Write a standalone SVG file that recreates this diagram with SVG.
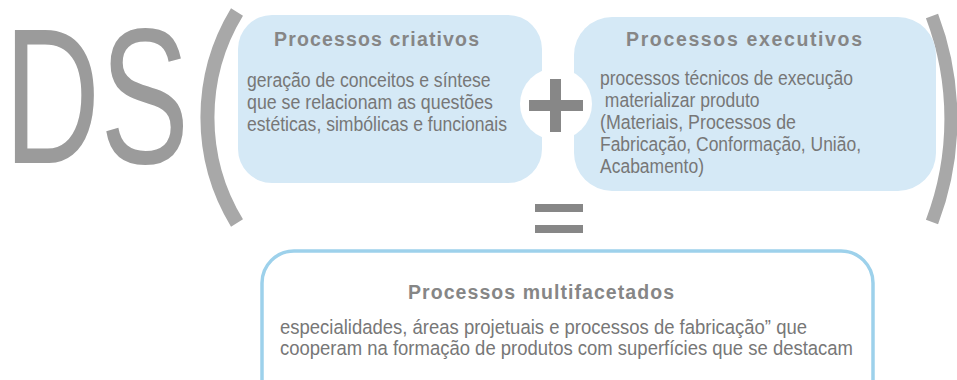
<svg xmlns="http://www.w3.org/2000/svg" width="957" height="380" viewBox="0 0 957 380">
<style>
.box{fill:#d5e9f6}
.title{font-family:"Liberation Sans",Arial,sans-serif;font-weight:bold;font-size:19.5px;fill:#868686}
.body{font-family:"Liberation Sans",Arial,sans-serif;font-size:19.5px;fill:#777777}
.big{font-size:20.5px}
.paren{fill:none;stroke:#a8a8a8;stroke-linecap:butt}
.op{fill:#878787}
</style>
<rect width="957" height="380" fill="#ffffff"/>
<g id="ds">
<text x="4" y="163" font-family="'Liberation Sans',Arial,sans-serif" font-size="193" fill="#9b9b9b" textLength="185" lengthAdjust="spacingAndGlyphs">DS</text>
</g>
<g id="paren-left"><path class="paren" stroke-width="14" d="M237,12 A203,203 0 0 0 237,223"/></g>
<g id="paren-right"><path class="paren" stroke-width="13" d="M932,16 A290,290 0 0 1 932,222"/></g>
<g id="criativos">
<rect class="box" x="238" y="15" width="304" height="168" rx="34"/>
<text class="title" x="274" y="46" textLength="205" lengthAdjust="spacing">Processos criativos</text>
<text class="body" x="247" y="87" textLength="243.6" lengthAdjust="spacingAndGlyphs">geração de conceitos e síntese</text>
<text class="body" x="247" y="109" textLength="246" lengthAdjust="spacingAndGlyphs">que se relacionam as questões</text>
<text class="body" x="247" y="131" textLength="260" lengthAdjust="spacingAndGlyphs">estéticas, simbólicas e funcionais</text>
</g>
<g id="executivos">
<rect class="box" x="574" y="17" width="362" height="174" rx="38"/>
<text class="title" x="626" y="46" textLength="236" lengthAdjust="spacing">Processos executivos</text>
<text class="body" x="600" y="85" textLength="253" lengthAdjust="spacingAndGlyphs">processos técnicos de execução</text>
<text class="body" x="600" y="107" textLength="159.5" lengthAdjust="spacingAndGlyphs" xml:space="preserve"> materializar produto</text>
<text class="body" x="600" y="129" textLength="196" lengthAdjust="spacingAndGlyphs">(Materiais, Processos de</text>
<text class="body" x="600" y="151" textLength="261" lengthAdjust="spacingAndGlyphs">Fabricação, Conformação, União,</text>
<text class="body" x="600" y="173" textLength="104" lengthAdjust="spacingAndGlyphs">Acabamento)</text>
</g>
<g id="connectors">
<circle cx="556" cy="104" r="36" fill="#ffffff"/>
<g id="plus"><rect class="op" x="529" y="100" width="54" height="11"/><rect class="op" x="550" y="79" width="11" height="53"/></g>
<g id="equals"><rect class="op" x="535" y="204" width="48" height="8"/><rect class="op" x="535" y="225" width="48" height="8"/></g>
</g>
<g id="multifacetados">
<rect x="262" y="251" width="611" height="170" rx="32" fill="#ffffff" stroke="#9dd1eb" stroke-width="3.5"/>
<text class="title" x="408" y="299" textLength="266" lengthAdjust="spacing">Processos multifacetados</text>
<text class="body big" x="280" y="334" textLength="527" lengthAdjust="spacingAndGlyphs">especialidades, áreas projetuais e processos de fabricação” que</text>
<text class="body big" x="280" y="355" textLength="573" lengthAdjust="spacingAndGlyphs">cooperam na formação de produtos com superfícies que se destacam</text>
</g>
</svg>
